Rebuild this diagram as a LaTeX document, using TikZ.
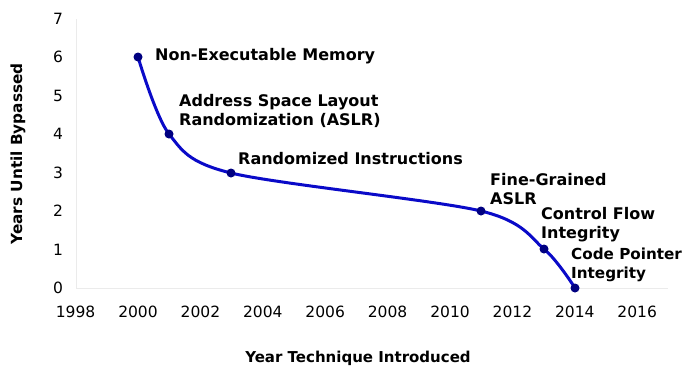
\documentclass[tikz,border=0pt]{standalone}
\usepackage{fontspec}
\setmainfont{DejaVu Sans}
\begin{document}
\begin{tikzpicture}[x=1pt,y=-1pt,
  tick/.style={font=\fontsize{15.5}{18}\selectfont, inner sep=0pt},
  lbl/.style={font=\fontsize{16}{19}\selectfont\bfseries, anchor=west, align=left, inner sep=0pt},
  axtitle/.style={font=\fontsize{15.3}{18}\selectfont\bfseries, inner sep=0pt},
  dot/.style={circle, fill=navy, inner sep=0pt, minimum size=9pt},
  axisline/.style={draw=gridgray, line width=0.8pt}]
\definecolor{navy}{RGB}{0,0,128}
\definecolor{curveblue}{RGB}{10,10,200}
\definecolor{gridgray}{RGB}{235,235,235}
\useasboundingbox (0,0) rectangle (687,367);
% axes
\coordinate (o) at (76,288);
\coordinate (xend) at (668,288);
\coordinate (ytop) at (76,19);
\draw[axisline] (ytop) -- (o) -- (xend);
% y tick labels
\foreach \v in {0,...,7} {
  \node[tick] (yt\v) at (58,{288-38.5*\v}) {\v};
}
% x tick labels
\foreach \i/\yr in {0/1998,1/2000,2/2002,3/2004,4/2006,5/2008,6/2010,7/2012,8/2014,9/2016} {
  \node[tick] (xt\i) at ({75.6+62.4*\i},312) {\yr};
}
% data points
\coordinate (p1) at (138,57);
\coordinate (p2) at (169,134);
\coordinate (p3) at (231,173);
\coordinate (p4) at (481,211);
\coordinate (p5) at (544,249);
\coordinate (p6) at (575,288);
\draw[curveblue, line width=3pt] plot[smooth, tension=0.5] coordinates {(p1) (p2) (p3) (p4) (p5) (p6)};
\foreach \k in {1,...,6} { \node[dot] (d\k) at (p\k) {}; }
% labels
\node[lbl] (l1) at (155,56) {Non-Executable Memory};
\node[lbl, anchor=north west] (l2) at (179,94) {Address Space Layout\\Randomization (ASLR)};
\node[lbl] (l3) at (238,159) {Randomized Instructions};
\node[lbl, anchor=north west] (l4) at (490,173) {Fine-Grained\\ASLR};
\node[lbl, anchor=north west] (l5) at (541,207) {Control Flow\\Integrity};
\node[lbl, anchor=north west, font=\fontsize{15.2}{19}\selectfont\bfseries] (l6) at (571,248) {Code Pointer\\Integrity};
% axis titles
\node[axtitle, rotate=90] (yttl) at (18,154) {Years Until Bypassed};
\node[axtitle, font=\fontsize{15}{18}\selectfont\bfseries] (xttl) at (358,358) {Year Technique Introduced};
\end{tikzpicture}
\end{document}
